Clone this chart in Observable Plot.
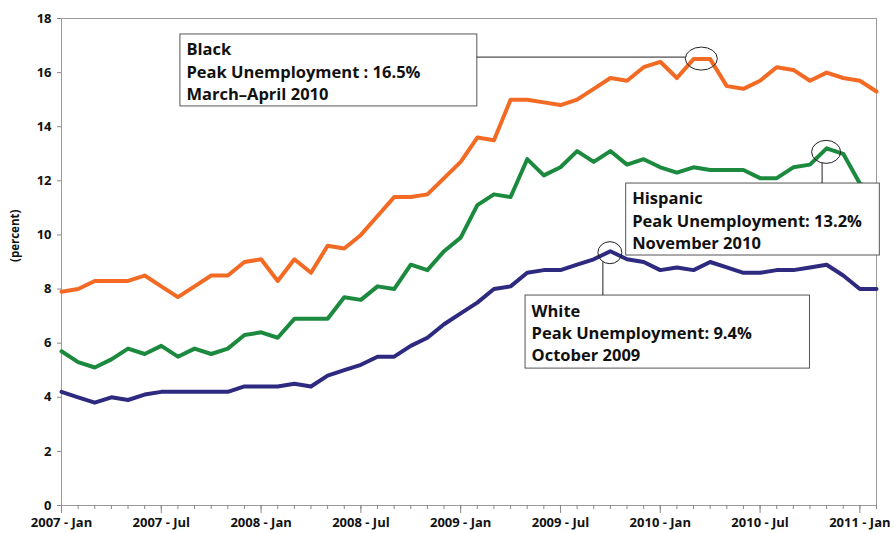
<!DOCTYPE html>
<html>
<head>
<meta charset="utf-8">
<script src="https://cdn.jsdelivr.net/npm/d3@7"></script>
<script src="https://cdn.jsdelivr.net/npm/@observablehq/plot@0.6"></script>
<style>
  html, body { margin: 0; padding: 0; background: #fff; }
  #chart svg { display: block; }
</style>
</head>
<body>
<div id="chart"></div>
<script>
// ---- Data (monthly unemployment rate, percent) ----
const months = [
  "2007-01","2007-02","2007-03","2007-04","2007-05","2007-06","2007-07","2007-08","2007-09","2007-10","2007-11","2007-12",
  "2008-01","2008-02","2008-03","2008-04","2008-05","2008-06","2008-07","2008-08","2008-09","2008-10","2008-11","2008-12",
  "2009-01","2009-02","2009-03","2009-04","2009-05","2009-06","2009-07","2009-08","2009-09","2009-10","2009-11","2009-12",
  "2010-01","2010-02","2010-03","2010-04","2010-05","2010-06","2010-07","2010-08","2010-09","2010-10","2010-11","2010-12",
  "2011-01","2011-02"
];
const black = [
  7.9, 8.0, 8.3, 8.3, 8.3, 8.5, 8.1, 7.7, 8.1, 8.5, 8.5, 9.0,
  9.1, 8.3, 9.1, 8.6, 9.6, 9.5, 10.0, 10.7, 11.4, 11.4, 11.5, 12.1,
  12.7, 13.6, 13.5, 15.0, 15.0, 14.9, 14.8, 15.0, 15.4, 15.8, 15.7, 16.2,
  16.4, 15.8, 16.5, 16.5, 15.5, 15.4, 15.7, 16.2, 16.1, 15.7, 16.0, 15.8,
  15.7, 15.3
];
const hispanic = [
  5.7, 5.3, 5.1, 5.4, 5.8, 5.6, 5.9, 5.5, 5.8, 5.6, 5.8, 6.3,
  6.4, 6.2, 6.9, 6.9, 6.9, 7.7, 7.6, 8.1, 8.0, 8.9, 8.7, 9.4,
  9.9, 11.1, 11.5, 11.4, 12.8, 12.2, 12.5, 13.1, 12.7, 13.1, 12.6, 12.8,
  12.5, 12.3, 12.5, 12.4, 12.4, 12.4, 12.1, 12.1, 12.5, 12.6, 13.2, 13.0,
  11.9, 11.6
];
const white = [
  4.2, 4.0, 3.8, 4.0, 3.9, 4.1, 4.2, 4.2, 4.2, 4.2, 4.2, 4.4,
  4.4, 4.4, 4.5, 4.4, 4.8, 5.0, 5.2, 5.5, 5.5, 5.9, 6.2, 6.7,
  7.1, 7.5, 8.0, 8.1, 8.6, 8.7, 8.7, 8.9, 9.1, 9.4, 9.1, 9.0,
  8.7, 8.8, 8.7, 9.0, 8.8, 8.6, 8.6, 8.7, 8.7, 8.8, 8.9, 8.5,
  8.0, 8.0
];
const xTickIndex = [0, 6, 12, 18, 24, 30, 36, 42, 48];
const xTickLabels = ["2007 - Jan","2007 - Jul","2008 - Jan","2008 - Jul","2009 - Jan","2009 - Jul","2010 - Jan","2010 - Jul","2011 - Jan"];
const yTicks = [0, 2, 4, 6, 8, 10, 12, 14, 16, 18];
const yLabel = "(percent)";

const noteBlack = ["Black", "Peak Unemployment : 16.5%", "March\u2013April 2010"];
const noteHispanic = ["Hispanic", "Peak Unemployment: 13.2%", "November 2010"];
const noteWhite = ["White", "Peak Unemployment: 9.4%", "October 2009"];

// ---- Styling / layout ----
const colors = { black: "#f26a24", hispanic: "#1c8a3e", white: "#2d2a80" };
const FONT = "'Open Sans', 'DejaVu Sans', sans-serif";

function peakOf(arr) {
  const m = d3.max(arr);
  const idx = arr.map((v, i) => v === m ? i : -1).filter(i => i >= 0);
  return { x: d3.mean(idx), y: m };
}

// annotation boxes in data units (x = month index, y = percent)
const notes = [
  { lines: noteBlack, series: black, x1: 7.15, x2: 25.0, y1: 17.41, y2: 14.75, rx: 16, ry: 11.5, dy: 0, link: "left" },
  { lines: noteHispanic, series: hispanic, x1: 33.95, x2: 49.2, y1: 11.90, y2: 9.24, rx: 14.5, ry: 11.5, dy: 4, link: "down", lx: -4 },
  { lines: noteWhite, series: white, x1: 27.9, x2: 45.0, y1: 7.76, y2: 5.06, rx: 12, ry: 11, dy: 2, link: "down", lx: -7 }
].map(n => ({ ...n, peak: peakOf(n.series), text: n.lines.join("\n"), ym: (n.y1 + n.y2) / 2 }));

const idx = months.map((m, i) => i);

function annotationMark(index, scales) {
  const g = d3.create("svg:g").attr("fill", "none").attr("stroke", "#222").attr("stroke-width", 1);
  for (const n of notes) {
    const cx = scales.x(n.peak.x), cy = scales.y(n.peak.y) + n.dy;
    g.append("ellipse").attr("cx", cx).attr("cy", cy).attr("rx", n.rx).attr("ry", n.ry);
    if (n.link === "left") {
      const y = cy - 1.5;
      const dxE = n.rx * Math.sqrt(1 - Math.pow((y - cy) / n.ry, 2));
      g.append("line").attr("x1", scales.x(n.x2)).attr("x2", cx - dxE).attr("y1", y).attr("y2", y);
    } else {
      const x = cx + n.lx;
      const dyE = n.ry * Math.sqrt(1 - Math.pow(n.lx / n.rx, 2));
      g.append("line").attr("x1", x).attr("x2", x).attr("y1", cy + dyE).attr("y2", scales.y(n.y1));
    }
  }
  return g.node();
}

const chart = Plot.plot({
  width: 894,
  height: 533,
  marginLeft: 61,
  marginRight: 18,
  marginTop: 18,
  marginBottom: 28,
  style: { fontFamily: FONT, fontSize: "13px", color: "#111", background: "#fff", overflow: "visible" },
  x: { domain: [0, 49] },
  y: { domain: [0, 18] },
  marks: [
    Plot.frame({ stroke: "#9a9a9a" }),
    Plot.axisY({ ticks: yTicks, tickSize: 4, tickPadding: 6, fontSize: 13, fontWeight: "bold", stroke: "#888", label: null }),
    Plot.axisX({ ticks: idx, tickSize: 4, tickFormat: () => "", stroke: "#888", label: null }),
    Plot.axisX({ ticks: xTickIndex, tickSize: 8, tickPadding: 4, fontSize: 13, fontWeight: "bold", stroke: "#888",
                 tickFormat: d => xTickLabels[xTickIndex.indexOf(d)], label: null }),
    Plot.text([yLabel], { frameAnchor: "left", dx: -46, rotate: -90, fontSize: 11.5, fontWeight: "bold", fill: "#111" }),
    Plot.lineY(black, { x: (d, i) => i, y: d => d, stroke: colors.black, strokeWidth: 4, strokeLinejoin: "round" }),
    Plot.lineY(hispanic, { x: (d, i) => i, y: d => d, stroke: colors.hispanic, strokeWidth: 4, strokeLinejoin: "round" }),
    Plot.lineY(white, { x: (d, i) => i, y: d => d, stroke: colors.white, strokeWidth: 4, strokeLinejoin: "round" }),
    Plot.rect(notes, { x1: "x1", x2: "x2", y1: "y1", y2: "y2", fill: "#fff", stroke: "#555", strokeWidth: 1 }),
    Plot.text(notes, { x: "x1", y: "ym", text: "text", textAnchor: "start", lineAnchor: "middle", dx: 6,
                       lineHeight: 1.34, fontSize: 16.5, fontWeight: "bold", fill: "#111" }),
    annotationMark
  ]
});

document.getElementById("chart").appendChild(chart);
</script>
</body>
</html>
